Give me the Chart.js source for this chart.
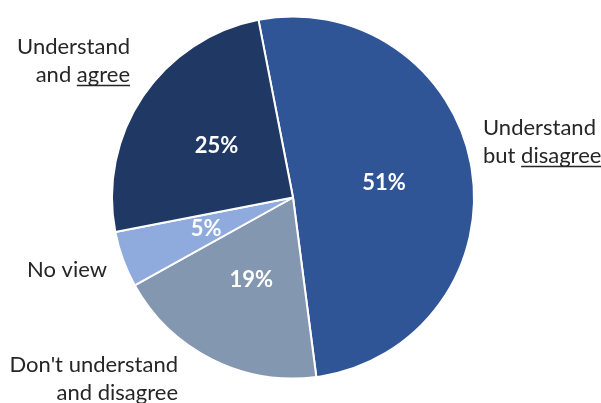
<!DOCTYPE html>
<html>
<head>
<meta charset="utf-8">
<script src="https://cdn.jsdelivr.net/npm/chart.js@4/dist/chart.umd.min.js"></script>
<style>
  html, body { margin: 0; padding: 0; background: #ffffff; }
  #wrap { width: 601px; height: 403px; position: relative; }
</style>
</head>
<body>
<div id="wrap"><canvas id="chart" width="601" height="403"></canvas></div>
<script>
// Survey responses (percent of respondents)
const categories = [
  ["Understand", "but disagree"],
  ["Don't understand", "and disagree"],
  ["No view"],
  ["Understand", "and agree"]
];
const shares = [51, 19, 5, 25];
const sliceColors = ["#2F5597", "#8497B0", "#8FAADC", "#203864"];
// word in each category label that gets underlined
const underlined = ["disagree", null, null, "agree"];

// where each outside label sits: anchor point, alignment
const labelPlacement = [
  { x: 483, y: 128, align: "left" },
  { x: 178, y: 365, align: "right" },
  { x: 107, y: 270, align: "right" },
  { x: 130, y: 47, align: "right" }
];

const FONT = "Lato, 'Open Sans', sans-serif";

const labelPlugin = {
  id: "pieLabels",
  afterDatasetsDraw(chart) {
    const ctx = chart.ctx;
    const meta = chart.getDatasetMeta(0);
    ctx.save();

    // values inside slices
    ctx.fillStyle = "#ffffff";
    ctx.font = "bold 22px " + FONT;
    ctx.textAlign = "center";
    ctx.textBaseline = "middle";
    meta.data.forEach((arc, i) => {
      const p = arc.getProps(["x", "y", "startAngle", "endAngle", "outerRadius"], true);
      const mid = (p.startAngle + p.endAngle) / 2;
      const r = p.outerRadius * 0.51;
      ctx.fillText(shares[i] + "%", p.x + Math.cos(mid) * r, p.y + Math.sin(mid) * r);
    });

    // category names outside the pie
    ctx.fillStyle = "#262626";
    ctx.strokeStyle = "#262626";
    ctx.lineWidth = 1.3;
    ctx.font = "22px " + FONT;
    ctx.textBaseline = "middle";
    categories.forEach((lines, i) => {
      const pl = labelPlacement[i];
      ctx.textAlign = pl.align;
      lines.forEach((line, j) => {
        const y = pl.y + j * 28;
        ctx.fillText(line, pl.x, y);
        const word = underlined[i];
        if (word && line.endsWith(word)) {
          const total = ctx.measureText(line).width;
          const w = ctx.measureText(word).width;
          let x0;
          if (pl.align === "right") x0 = pl.x - w;
          else x0 = pl.x + total - w;
          ctx.beginPath();
          ctx.moveTo(x0, y + 10.5);
          ctx.lineTo(x0 + w, y + 10.5);
          ctx.stroke();
        }
      });
    });
    ctx.restore();
  }
};

new Chart(document.getElementById("chart"), {
  type: "pie",
  data: {
    labels: categories.map(l => l.join(" ")),
    datasets: [{
      data: shares,
      backgroundColor: sliceColors,
      borderColor: "#ffffff",
      borderWidth: 2
    }]
  },
  options: {
    responsive: false,
    animation: false,
    rotation: -11,
    layout: { padding: { top: 14, bottom: 22, left: 111, right: 126 } },
    plugins: {
      legend: { display: false },
      tooltip: { enabled: false }
    }
  },
  plugins: [labelPlugin]
});
</script>
</body>
</html>
